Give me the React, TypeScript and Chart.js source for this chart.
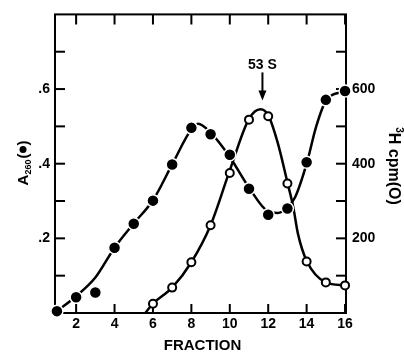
import React, { useEffect, useRef } from "react";
import { Chart, registerables } from "chart.js";
Chart.register(...registerables);

// ---- data ----
const fractions = [1, 2, 3, 4, 5, 6, 7, 8, 9, 10, 11, 12, 13, 14, 15, 16];
const a260 = [0.005, 0.042, 0.055, 0.175, 0.239, 0.301, 0.398, 0.496, 0.479, 0.424, 0.333, 0.263, 0.28, 0.404, 0.571, 0.595];
const cpmFractions = [6, 7, 8, 9, 10, 11, 12, 13, 14, 15, 16];
const cpm = [25, 68, 136, 235, 375, 518, 527, 347, 138, 82, 74];

// hand-drawn fitted curves (knots)
const a260FitX = [1, 2, 3, 4, 5, 6, 7, 8, 8.35, 9, 10, 11, 12, 12.5, 13, 13.4, 14, 14.5, 15, 16];
const a260FitY = [0.005, 0.045, 0.095, 0.175, 0.24, 0.302, 0.398, 0.492, 0.507, 0.483, 0.418, 0.336, 0.272, 0.268, 0.283, 0.31, 0.4, 0.5, 0.568, 0.595];
const cpmFitX = [5.6, 6, 7, 8, 9, 10, 11, 11.6, 12, 12.5, 13, 13.3, 13.55, 14, 15, 16];
const cpmFitY = [0, 25, 68, 136, 235, 382, 520, 546, 530, 455, 350, 285, 212, 140, 82, 74];

const xTicks = [2, 4, 6, 8, 10, 12, 14, 16];
const yLeftTicks = [0.1, 0.2, 0.3, 0.4, 0.5, 0.6, 0.7];
const yLeftLabels = ["", ".2", "", ".4", "", ".6", ""];
const yRightTicks = [100, 200, 300, 400, 500, 600, 700];
const yRightLabels = ["", "200", "", "400", "", "600", ""];
const arrowFraction = 11.7;
const arrowLabel = "53 S";
const xTitle = "FRACTION";

const FONT = "'Liberation Sans', Arial, Helvetica, sans-serif";

const framePlugin = {
  id: "frame",
  beforeDatasetsDraw(chart: any) {
    const { ctx, chartArea } = chart;
    const { left, right, top, bottom } = chartArea;
    ctx.save();
    ctx.strokeStyle = "#000";
    ctx.lineWidth = 2;
    ctx.strokeRect(left, top, right - left, bottom - top);
    const xs = chart.scales.x;
    xTicks.forEach((v) => {
      const px = xs.getPixelForValue(v);
      ctx.beginPath();
      ctx.moveTo(px, bottom);
      ctx.lineTo(px, bottom - 9);
      ctx.moveTo(px, top);
      ctx.lineTo(px, top + 10);
      ctx.stroke();
    });
    const ys = chart.scales.y;
    yLeftTicks.forEach((v) => {
      const py = ys.getPixelForValue(v);
      ctx.beginPath();
      ctx.moveTo(left, py);
      ctx.lineTo(left + 10, py);
      ctx.stroke();
    });
    const ys2 = chart.scales.y2;
    yRightTicks.forEach((v) => {
      const py = ys2.getPixelForValue(v);
      ctx.beginPath();
      ctx.moveTo(right, py);
      ctx.lineTo(right - 10, py);
      ctx.stroke();
    });
    ctx.restore();
  },
  afterDraw(chart: any) {
    const { ctx, chartArea } = chart;
    const { left, right, top } = chartArea;
    ctx.save();
    ctx.fillStyle = "#000";
    ctx.strokeStyle = "#000";

    // x title
    ctx.font = `bold 15px ${FONT}`;
    ctx.textAlign = "center";
    ctx.textBaseline = "alphabetic";
    ctx.fillText(xTitle, (left + right) / 2 + 2, 350);

    // arrow + label
    const ax = chart.scales.x.getPixelForValue(arrowFraction);
    ctx.font = `bold 14px ${FONT}`;
    ctx.fillText(arrowLabel, ax, top + 55);
    ctx.lineWidth = 2;
    ctx.beginPath();
    ctx.moveTo(ax, top + 58);
    ctx.lineTo(ax, top + 80);
    ctx.stroke();
    ctx.beginPath();
    ctx.moveTo(ax - 4, top + 76);
    ctx.lineTo(ax + 4, top + 76);
    ctx.lineTo(ax, top + 86);
    ctx.closePath();
    ctx.fill();

    // left title: A260(●)
    ctx.save();
    ctx.translate(22, 163);
    ctx.rotate(-Math.PI / 2);
    ctx.textAlign = "left";
    const bigF = `bold 15px ${FONT}`;
    const smallF = `bold 9px ${FONT}`;
    ctx.font = bigF;
    const wA = ctx.measureText("A").width;
    const wP = ctx.measureText("(").width;
    ctx.font = smallF;
    const wS = ctx.measureText("260").width;
    const circD = 7;
    const total = wA + wS + 1 + wP * 2 + circD + 1;
    let cx = -total / 2;
    ctx.font = bigF;
    ctx.fillText("A", cx, 6);
    cx += wA;
    ctx.font = smallF;
    ctx.fillText("260", cx, 9);
    cx += wS + 1;
    ctx.font = bigF;
    ctx.fillText("(", cx, 6);
    cx += wP;
    ctx.beginPath();
    ctx.arc(cx + circD / 2 + 0.5, 1, circD / 2, 0, Math.PI * 2);
    ctx.fill();
    cx += circD + 1;
    ctx.fillText(")", cx, 6);
    ctx.restore();

    // right title: 3H cpm(O)
    ctx.save();
    ctx.translate(395, 166);
    ctx.rotate(Math.PI / 2);
    ctx.textAlign = "left";
    const rBig = `bold 16px ${FONT}`;
    const rSmall = `bold 10px ${FONT}`;
    ctx.font = rSmall;
    const w3 = ctx.measureText("3").width;
    ctx.font = rBig;
    const wRest = ctx.measureText("H cpm(O)").width;
    const tot = w3 + wRest;
    let rx = -tot / 2;
    ctx.font = rSmall;
    ctx.fillText("3", rx, -1);
    rx += w3;
    ctx.font = rBig;
    ctx.fillText("H cpm(O)", rx, 6);
    ctx.restore();

    ctx.restore();
  },
};

export default function App() {
  const ref = useRef<HTMLCanvasElement | null>(null);
  useEffect(() => {
    document.body.style.margin = "0";
    if (!ref.current) return;
    const chart = new Chart(ref.current, {
      type: "scatter",
      data: {
        datasets: [
          {
            label: "A260 points",
            data: fractions.map((f, i) => ({ x: f, y: a260[i] })),
            yAxisID: "y",
            showLine: false,
            pointRadius: 6,
            pointBackgroundColor: "#000",
            pointBorderColor: "#fff",
            pointBorderWidth: 1.5,
            clip: false,
            order: 1,
          } as any,
          {
            label: "cpm points",
            data: cpmFractions.map((f, i) => ({ x: f, y: cpm[i] })),
            yAxisID: "y2",
            showLine: false,
            pointRadius: 4,
            pointBackgroundColor: "#fff",
            pointBorderColor: "#000",
            pointBorderWidth: 2,
            clip: false,
            order: 2,
          } as any,
          {
            label: "A260 fit",
            data: a260FitX.map((x, i) => ({ x, y: a260FitY[i] })),
            yAxisID: "y",
            showLine: true,
            cubicInterpolationMode: "monotone",
            borderColor: "#000",
            borderWidth: 2.5,
            pointRadius: 0,
            clip: false,
            order: 3,
          } as any,
          {
            label: "cpm fit",
            data: cpmFitX.map((x, i) => ({ x, y: cpmFitY[i] })),
            yAxisID: "y2",
            showLine: true,
            cubicInterpolationMode: "monotone",
            borderColor: "#000",
            borderWidth: 2.5,
            pointRadius: 0,
            clip: false,
            order: 4,
          } as any,
        ],
      },
      options: {
        animation: false,
        responsive: false,
        layout: { padding: { top: 10, left: 0, right: 0, bottom: 0 } },
        plugins: { legend: { display: false }, tooltip: { enabled: false } },
        scales: {
          x: {
            type: "linear",
            position: "bottom",
            min: 0.9,
            max: 16.05,
            grid: { display: false, drawTicks: false },
            border: { display: false },
            afterBuildTicks: (s: any) => {
              s.ticks = xTicks.map((v) => ({ value: v }));
            },
            afterFit: (s: any) => {
              s.height = 39;
            },
            ticks: {
              padding: 3,
              color: "#000",
              font: { family: FONT, size: 14, weight: "bold" },
              callback: (v: any) => String(v),
              maxRotation: 0,
              autoSkip: false,
            },
          },
          y: {
            type: "linear",
            position: "left",
            min: 0,
            max: 0.8,
            grid: { display: false, drawTicks: false },
            border: { display: false },
            afterBuildTicks: (s: any) => {
              s.ticks = yLeftTicks.map((v) => ({ value: v }));
            },
            afterFit: (s: any) => {
              s.width = 55;
            },
            ticks: {
              padding: 5,
              color: "#000",
              font: { family: FONT, size: 14, weight: "bold" },
              callback: (_v: any, i: number) => yLeftLabels[i],
              autoSkip: false,
            },
          },
          y2: {
            type: "linear",
            position: "right",
            min: 0,
            max: 800,
            grid: { display: false, drawTicks: false },
            border: { display: false },
            afterBuildTicks: (s: any) => {
              s.ticks = yRightTicks.map((v) => ({ value: v }));
            },
            afterFit: (s: any) => {
              s.width = 58;
            },
            ticks: {
              padding: 6,
              color: "#000",
              font: { family: FONT, size: 14, weight: "bold" },
              callback: (_v: any, i: number) => yRightLabels[i],
              autoSkip: false,
            },
          },
        },
      } as any,
      plugins: [framePlugin],
    });
    return () => chart.destroy();
  }, []);
  return (
    <div style={{ position: "absolute", left: 0, top: 0, width: 404, height: 352, background: "#fff" }}>
      <canvas ref={ref} width={404} height={352} style={{ width: 404, height: 352 }} />
    </div>
  );
}
